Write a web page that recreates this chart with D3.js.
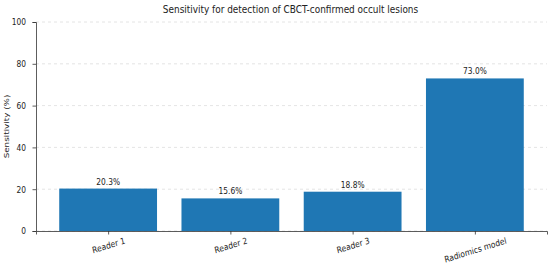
<!DOCTYPE html>
<html>
<meta charset="utf-8">
<style>
  body { margin: 0; background: #fff; }
  text { font-family: 'DejaVu Sans', sans-serif; fill: #222; }
</style>
<body>
<svg width="550" height="268"></svg>
<script src="https://d3js.org/d3.v7.min.js"></script>
<script>
  // chart data
  let categories = ["Reader 1", "Reader 2", "Reader 3", "Radiomics model"];
  let sensitivity = [20.3, 15.6, 18.8, 73.0];
  let yTicks = [0, 20, 40, 60, 80, 100];

  let margin = {top: 22, right: 3, bottom: 37, left: 36},
      width = 550 - margin.left - margin.right,
      height = 268 - margin.top - margin.bottom;

  // the picture looks squeezed sideways, so text gets a horizontal scale
  let sx = 0.85;
  let fs = 8.8;

  let svg = d3.select("svg").append("g")
      .attr("transform", "translate(" + margin.left + "," + margin.top + ")");

  // bars at 0..n-1 with width 0.8 and 5% margins, like matplotlib
  let n = categories.length;
  let xScale = d3.scaleLinear().domain([-0.59, n - 1 + 0.59]).range([0, width]);
  let yScale = d3.scaleLinear().domain([0, 100]).range([height, 0]);

  // grid
  svg.append("g").selectAll("line")
    .data(yTicks)
    .join("line")
    .attr("x1", 0).attr("x2", width)
    .attr("y1", d => yScale(d)).attr("y2", d => yScale(d))
    .style("stroke", "#ddd")
    .style("stroke-width", 0.8)
    .style("stroke-dasharray", "3,3");

  // bars
  svg.append("g").selectAll("rect")
    .data(sensitivity)
    .join("rect")
    .attr("x", (d, i) => xScale(i - 0.4))
    .attr("width", xScale(0.8) - xScale(0))
    .attr("y", d => yScale(d))
    .attr("height", d => height - yScale(d))
    .style("fill", "#1f77b4");

  // value labels
  svg.append("g").selectAll("text")
    .data(sensitivity)
    .join("text")
    .attr("transform", (d, i) => "translate(" + xScale(i) + "," + (yScale(d) - 4) + ") scale(" + sx + ",1)")
    .attr("text-anchor", "middle")
    .style("font-size", fs + "px")
    .text(d => d.toFixed(1) + "%");

  // axes
  let yAxis = svg.append("g")
    .call(d3.axisLeft(yScale).tickValues(yTicks).tickSize(3.5));

  yAxis.selectAll(".tick text")
    .attr("x", -10 / sx)
    .attr("transform", "scale(" + sx + ",1)")
    .style("font-size", fs + "px");

  let xAxis = svg.append("g")
    .attr("transform", "translate(0," + height + ")")
    .call(d3.axisBottom(xScale).tickValues(d3.range(n)).tickFormat(i => categories[i]).tickSize(3.5));

  let ang = 15 * Math.PI / 180;
  xAxis.selectAll(".tick text")
    .style("font-size", fs + "px")
    .attr("text-anchor", "middle")
    .attr("y", 0)
    .attr("dy", "0.36em")
    .attr("transform", function() {
      let w = this.getComputedTextLength();
      let h = 0.75 * fs;
      let bh = w * Math.sin(ang) + h * Math.cos(ang);
      return "translate(0," + (6 + bh / 2) + ") scale(" + sx + ",1) rotate(-15)";
    });

  [xAxis, yAxis].forEach(a => {
    a.select(".domain").style("stroke", "#333").style("stroke-width", 0.8);
    a.selectAll(".tick line").style("stroke", "#333").style("stroke-width", 0.8);
  });

  // labels
  svg.append("text")
    .attr("transform", "translate(" + (-27) + "," + (height / 2) + ") rotate(-90) scale(1," + sx + ")")
    .attr("text-anchor", "middle")
    .style("font-size", fs + "px")
    .text("Sensitivity (%)");

  svg.append("text")
    .attr("transform", "translate(" + (width / 2 - 1) + "," + (-9.5) + ") scale(" + sx + ",1)")
    .attr("text-anchor", "middle")
    .style("font-size", "10.5px")
    .text("Sensitivity for detection of CBCT-confirmed occult lesions");
</script>
</body>
</html>
